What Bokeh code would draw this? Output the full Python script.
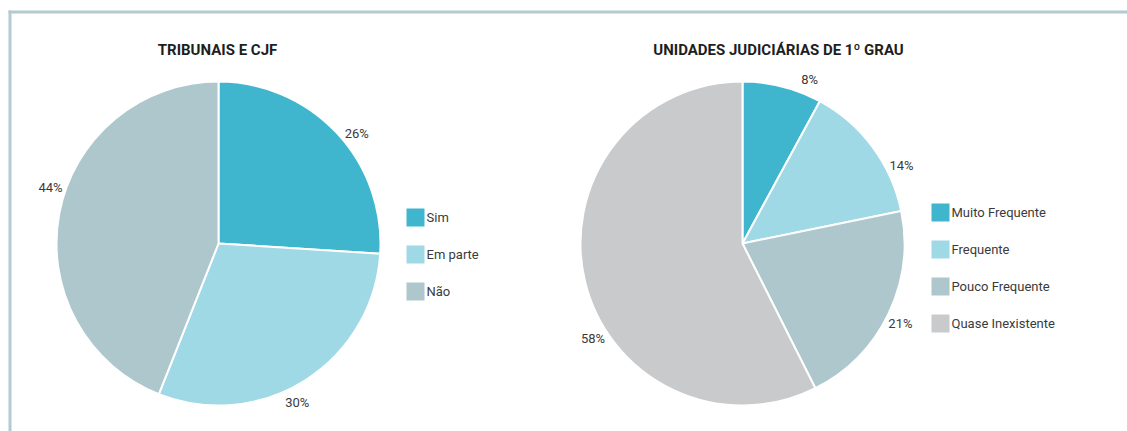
import math
from bokeh.plotting import figure
from bokeh.models import Range1d, ColumnDataSource
from bokeh.core.properties import value
from bokeh.embed import file_html
from bokeh.resources import INLINE

# ---------------- data ----------------
title1 = "TRIBUNAIS E CJF"
cats1 = ["Sim", "Em parte", "Não"]
vals1 = [26, 30, 44]

title2 = "UNIDADES JUDICIÁRIAS DE 1º GRAU"
cats2 = ["Muito Frequente", "Frequente", "Pouco Frequente", "Quase Inexistente"]
vals2 = [8, 14, 21, 58]

colors1 = ["#40b6ce", "#9fd9e6", "#adc7cc"]
colors2 = ["#40b6ce", "#9fd9e6", "#adc7cc", "#c9cacc"]

# label angular nudges (degrees, clockwise) - label placement style
nudge1 = [4.6, 6.0, 7.5]
nudge2 = [8.0, 10.5, 1.0, -19.0]

# ---------------- layout ----------------
W, H = 1127, 431
FONT = "Roboto"
TXT = "#3a3a3a"


def Y(py):
    return H - py


p = figure(width=W, height=H, x_range=Range1d(0, W), y_range=Range1d(0, H),
           output_backend="svg", toolbar_location=None, min_border=0)
p.axis.visible = False
p.grid.visible = False
p.outline_line_color = None
p.background_fill_color = "white"
p.border_fill_color = "white"

# frame lines
frame_col = "#b2cbd1"
p.quad(left=[8], right=[11], top=[Y(10)], bottom=[Y(431)], color=frame_col, line_width=0)
p.quad(left=[8], right=[1127], top=[Y(10)], bottom=[Y(13)], color=frame_col, line_width=0)


def draw_pie(cx, cy, r, cats, vals, colors, nudges, title, tx, ty, lx, ly0, dy):
    total = float(sum(vals))
    cum = 0.0
    starts, ends, mids = [], [], []
    for v in vals:
        a0 = cum / total * 360.0
        cum += v
        a1 = cum / total * 360.0
        starts.append(a0)
        ends.append(a1)
        mids.append((a0 + a1) / 2)
    # convert clockwise-from-top to bokeh math angle (anticlock from +x)
    sa = [math.radians(90 - e) for e in ends]
    ea = [math.radians(90 - s) for s in starts]
    src = ColumnDataSource(dict(x=[cx] * len(vals), y=[Y(cy)] * len(vals),
                                sa=sa, ea=ea, color=colors))
    p.wedge(x="x", y="y", radius=r, radius_units="screen", start_angle="sa", end_angle="ea",
            direction="anticlock", fill_color="color", line_color="white", line_width=2,
            source=src)
    # percent labels
    lr = 177
    xs, ys, labs = [], [], []
    for m, n, v in zip(mids, nudges, vals):
        a = math.radians(m + n)
        xs.append(cx + lr * math.sin(a))
        ys.append(Y(cy) + lr * math.cos(a))
        labs.append(f"{v}%")
    p.text(x=xs, y=ys, text=labs, text_align="center", text_baseline="middle",
           text_font=value(FONT), text_font_size="13px", text_color=TXT)
    # title
    p.text(x=[tx], y=[Y(ty)], text=[title], text_align="center", text_baseline="middle",
           text_font=value(FONT), text_font_size="15px", text_font_style="bold",
           text_color="#1e1e1e")
    # legend
    n = len(cats)
    lys = [Y(ly0 + i * dy) for i in range(n)]
    p.rect(x=[lx] * n, y=lys, width=18, height=18, width_units="screen",
           height_units="screen", fill_color=colors, line_color=None)
    p.text(x=[lx + 11] * n, y=lys, text=cats, text_align="left", text_baseline="middle",
           text_font=value(FONT), text_font_size="13px", text_color=TXT)


draw_pie(218, 243, 162, cats1, vals1, colors1, nudge1, title1, 217, 49, 415, 217, 37)
draw_pie(742, 243, 162, cats2, vals2, colors2, nudge2, title2, 778, 49, 940, 212, 37)

open("out.html", "w").write(file_html(p, INLINE))
